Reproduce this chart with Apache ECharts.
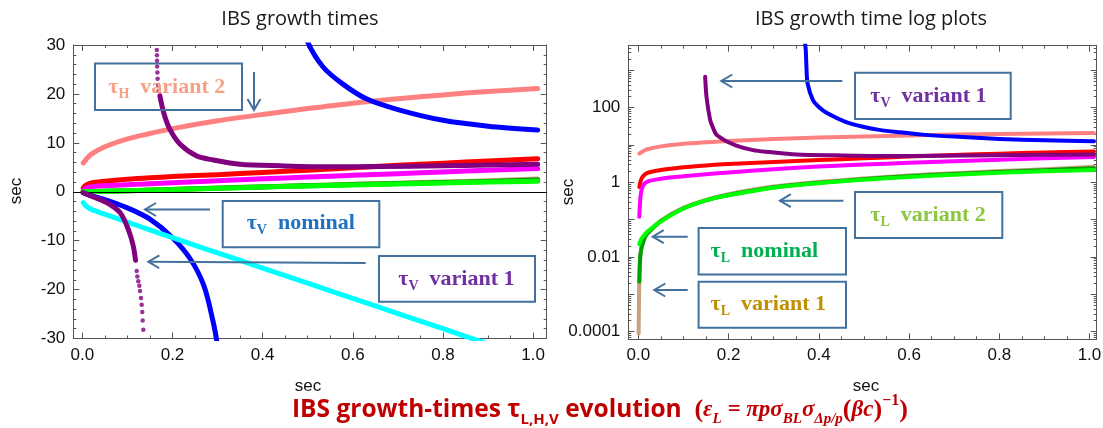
<!DOCTYPE html>
<html><head><meta charset="utf-8">
<script src="https://cdn.jsdelivr.net/npm/echarts@6.0.0/dist/echarts.min.js"></script>
<style>html,body{margin:0;padding:0;background:#fff;}#chart{width:1103px;height:428px;}</style>
</head><body><div id="chart"></div>
<script>
// ---------------- data ----------------
const X_MAIN = [0.002, 0.005, 0.01, 0.02, 0.05, 0.1, 0.15, 0.2, 0.3, 0.4, 0.5, 0.6, 0.7, 0.8, 0.9, 1.01];
const TAU_H_VAR2 = [5.9, 6.2, 6.8, 7.7, 9.2, 10.8, 11.9, 12.9, 14.5, 15.8, 17.0, 18.1, 19.0, 19.8, 20.5, 21.1];   // salmon
const TAU_RED    = [0.75, 1.1, 1.45, 1.8, 2.15, 2.55, 2.85, 3.1, 3.5, 3.95, 4.4, 4.9, 5.4, 5.85, 6.3, 6.75];
const TAU_MAG    = [0.12, 0.45, 0.8, 1.05, 1.25, 1.45, 1.65, 1.85, 2.25, 2.65, 3.0, 3.35, 3.7, 4.05, 4.4, 4.75];
const TAU_L_VAR2 = [0.022, 0.028, 0.035, 0.048, 0.09, 0.2, 0.33, 0.45, 0.72, 0.95, 1.17, 1.4, 1.6, 1.8, 1.98, 2.15]; // bright green
const TAU_CYAN   = [-2.2, -2.6, -3.0, -3.6, -4.6, -6.2, -7.8, -9.4, -12.5, -15.6, -18.7, -21.8, -24.9, -28.0, -31.1, -34.5];

const X_L_NOM    = [0.002, 0.004, 0.007, 0.01, 0.015, 0.02, 0.05, 0.1, 0.15, 0.2, 0.3, 0.4, 0.5, 0.6, 0.7, 0.8, 0.9, 1.01];
const TAU_L_NOM  = [0.0022, 0.01, 0.018, 0.024, 0.035, 0.043, 0.092, 0.2, 0.33, 0.46, 0.74, 0.98, 1.22, 1.46, 1.68, 1.9, 2.12, 2.4];

const X_L_VAR1   = [0.0005, 0.001, 0.0015, 0.002, 0.004, 0.007, 0.01, 0.015, 0.02, 0.05, 0.1, 0.15, 0.2, 0.3, 0.4, 0.5, 0.6, 0.7, 0.8, 0.9, 1.01];
const TAU_L_VAR1 = [0.00009, 0.0003, 0.001, 0.0022, 0.01, 0.018, 0.024, 0.035, 0.043, 0.094, 0.21, 0.34, 0.48, 0.77, 1.02, 1.27, 1.52, 1.76, 2.0, 2.25, 2.6];

const X_V_NOM_NEG   = [0.002, 0.01, 0.02, 0.05, 0.1, 0.15, 0.2, 0.24, 0.27, 0.29, 0.3, 0.31];
const TAU_V_NOM_NEG = [-0.2, -0.5, -0.8, -1.6, -3.3, -5.6, -9.4, -13.8, -19.3, -26.5, -31.5, -38];
const X_V_NOM_POS   = [0.369, 0.371, 0.3725, 0.375, 0.387, 0.4, 0.418, 0.459, 0.498, 0.534, 0.578, 0.63, 0.7, 0.8, 0.9, 1.01];
const TAU_V_NOM_POS = [6000, 3500, 1260, 450, 160, 105, 72, 42, 31, 25.5, 22, 19, 16.8, 14.6, 13.4, 12.6];

const X_V_VAR1_NEG   = [0.002, 0.01, 0.02, 0.054, 0.084, 0.102, 0.113, 0.118];
const TAU_V_VAR1_NEG = [-0.2, -0.5, -0.9, -2.2, -4.3, -7.7, -11.1, -14.0];
const X_V_VAR1_POS   = [0.148, 0.151, 0.159, 0.165, 0.172, 0.181, 0.194, 0.217, 0.254, 0.29, 0.35, 0.44, 0.55, 0.66, 0.8, 0.9, 1.01];
const TAU_V_VAR1_POS = [670, 195, 47, 30, 19.6, 16, 12.8, 9.7, 7.3, 6.5, 5.6, 5.3, 5.1, 5.15, 5.3, 5.45, 5.6];
// sparse dots of the steep parts (left plot)
const X_V_VAR1_DOTS_NEG   = [0.1206, 0.122, 0.1242, 0.1264, 0.128, 0.1302, 0.1317, 0.133, 0.1339, 0.1353];
const TAU_V_VAR1_DOTS_NEG = [-16.2, -17.3, -18.3, -19.2, -20.3, -21.7, -23.1, -24.6, -26.3, -28.2];
const X_V_VAR1_DOTS_TOP   = [0.165, 0.1652, 0.1655, 0.1658, 0.166, 0.1665, 0.167, 0.168, 0.169];
const TAU_V_VAR1_DOTS_TOP = [30.2, 29.0, 27.9, 26.8, 25.6, 24.4, 23.1, 21.8, 20.6];

// ticks
const X_MAJOR = [0, 0.2, 0.4, 0.6, 0.8, 1.0];
const X_MINOR = [0.05, 0.1, 0.15, 0.25, 0.3, 0.35, 0.45, 0.5, 0.55, 0.65, 0.7, 0.75, 0.85, 0.9, 0.95];
const Y_LIN_MAJOR = [-30, -20, -10, 0, 10, 20, 30];
const Y_LIN_MINOR = [-28, -26, -24, -22, -18, -16, -14, -12, -8, -6, -4, -2, 2, 4, 6, 8, 12, 14, 16, 18, 22, 24, 26, 28];
const Y_LOG_LABELS = [0.0001, 0.01, 1, 100];
const Y_LOG_MAJOR = [0.0001, 0.001, 0.01, 0.1, 1, 10, 100, 1000];
const Y_LOG_MINOR = [];
for (let e = -5; e <= 3; e++) for (let m = 2; m <= 9; m++) Y_LOG_MINOR.push(+(m * Math.pow(10, e)).toPrecision(3));

// ---------------- styling ----------------
const FRAME = '#555';
const BOX = '#41719C';
const SERIF = '"Liberation Serif", "Times New Roman", serif';
const SANS = '"Liberation Sans", Arial, sans-serif';
const C = {salmon:'#FF8080', red:'#FF0000', mag:'#FF00FF', tan:'#C8A07E', dk:'#00A000', green:'#00FF00',
           blue:'#0000FF', cyan:'#00FFFF', purple:'#800080'};

const pair = (xs, ys) => xs.map((x, i) => [x, ys[i]]);

function axisSet(dim, g, type, min, max, majors, minors, labels, fmt) {
  const sides = dim === 'x' ? ['bottom', 'top'] : ['left', 'right'];
  const list = [];
  sides.forEach((pos, si) => {
    [true, false].forEach(isMajor => {
      const a = {
        type, gridIndex: g, position: pos, offset: 0, min, max,
        axisLine: {show: isMajor, onZero: false, lineStyle: {color: FRAME, width: 1}},
        axisTick: {show: true, inside: true, length: isMajor ? 6 : 3, customValues: isMajor ? majors : minors,
                   lineStyle: {color: FRAME, width: 1}},
        axisLabel: (si === 0 && isMajor)
          ? {show: true, customValues: labels, formatter: fmt, fontSize: 17, fontFamily: SANS, color: '#111', margin: 8}
          : {show: false},
        splitLine: {show: false}, minorTick: {show: false}, minorSplitLine: {show: false},
        silent: true
      };
      if (type === 'log') a.logBase = 10;
      list.push(a);
    });
  });
  return list;
}

const fmtX = v => (+v).toFixed(1);
const fmtYLin = v => String(Math.round(v));
const fmtYLog = v => { const e = Math.round(Math.log10(v)); return e >= 0 ? String(Math.pow(10, e)) : Math.pow(10, e).toFixed(-e); };

const xAxis = [
  ...axisSet('x', 0, 'value', -0.02, 1.03, X_MAJOR, X_MINOR, X_MAJOR, fmtX),
  ...axisSet('x', 1, 'value', -0.0224, 1.016, X_MAJOR, X_MINOR, X_MAJOR, fmtX)
];
const yAxis = [
  ...axisSet('y', 0, 'value', -30, 30, Y_LIN_MAJOR, Y_LIN_MINOR, Y_LIN_MAJOR, fmtYLin),
  ...axisSet('y', 1, 'log', 6.25e-5, 4580, Y_LOG_MAJOR, Y_LOG_MINOR, Y_LOG_LABELS, fmtYLog)
];

function lineS(g, data, color, width, z, extra) {
  return Object.assign({
    type: 'line', xAxisIndex: g * 4, yAxisIndex: g * 4, data, showSymbol: false, smooth: 0.3,
    lineStyle: {width, color, cap: 'round', join: 'round'}, itemStyle: {color}, clip: true, silent: true, z
  }, extra || {});
}
function dotS(g, data, color, size, z) {
  return {type: 'scatter', xAxisIndex: g * 4, yAxisIndex: g * 4, data, symbolSize: size,
          itemStyle: {color}, clip: true, silent: true, z};
}

const W1 = 5, W2 = 4;
const series = [
  // left plot
  lineS(0, pair(X_MAIN, TAU_H_VAR2), C.salmon, W1, 2, {
    markLine: {silent: true, symbol: 'none', label: {show: false}, animation: false,
               lineStyle: {color: '#000', width: 1, type: 'solid'}, data: [{yAxis: 0}]}
  }),
  lineS(0, pair(X_MAIN, TAU_RED), C.red, W1, 3),
  lineS(0, pair(X_MAIN, TAU_MAG), C.mag, W1, 3),
  lineS(0, pair(X_L_VAR1, TAU_L_VAR1), C.tan, W1, 3),
  lineS(0, pair(X_L_NOM, TAU_L_NOM), C.dk, W1, 3),
  lineS(0, pair(X_MAIN, TAU_L_VAR2), C.green, W1, 3),
  lineS(0, pair(X_V_NOM_NEG, TAU_V_NOM_NEG), C.blue, W1, 4),
  lineS(0, pair(X_V_NOM_POS, TAU_V_NOM_POS), C.blue, W1, 4),
  lineS(0, pair(X_MAIN, TAU_CYAN), C.cyan, W1, 5),
  lineS(0, pair(X_V_VAR1_NEG, TAU_V_VAR1_NEG), C.purple, W1, 6),
  lineS(0, pair(X_V_VAR1_POS, TAU_V_VAR1_POS).filter(p => p[1] <= 20), C.purple, W1, 6),
  dotS(0, pair(X_V_VAR1_DOTS_NEG, TAU_V_VAR1_DOTS_NEG), C.purple, 4.5, 6),
  dotS(0, pair(X_V_VAR1_DOTS_TOP, TAU_V_VAR1_DOTS_TOP), C.purple, 4.5, 6),
  // right (log) plot
  lineS(1, pair(X_MAIN, TAU_H_VAR2), C.salmon, W2, 2),
  lineS(1, pair(X_MAIN, TAU_RED), C.red, W2, 3),
  lineS(1, pair(X_MAIN, TAU_MAG), C.mag, W2, 3),
  lineS(1, pair(X_L_VAR1, TAU_L_VAR1), C.tan, W2, 3),
  lineS(1, pair(X_L_NOM, TAU_L_NOM), C.dk, W2, 3),
  lineS(1, pair(X_MAIN, TAU_L_VAR2), C.green, W2, 3),
  lineS(1, pair(X_V_NOM_POS, TAU_V_NOM_POS), C.blue, W2, 4),
  lineS(1, pair(X_V_VAR1_POS, TAU_V_VAR1_POS), C.purple, W2, 6)
];

// ---------------- annotations ----------------
function rect(x, y, w, h) {
  return {type: 'rect', shape: {x, y, width: w, height: h}, style: {stroke: BOX, lineWidth: 2, fill: null}, z: 100, silent: true};
}
function arrow(x1, y1, x2, y2) {
  const ang = Math.atan2(y2 - y1, x2 - x1), L = 11, W = 6.5;
  const bx = x2 - L * Math.cos(ang), by = y2 - L * Math.sin(ang);
  const px = -Math.sin(ang) * W, py = Math.cos(ang) * W;
  return [
    {type: 'line', shape: {x1, y1, x2, y2}, style: {stroke: BOX, lineWidth: 2}, z: 100, silent: true},
    {type: 'polyline', shape: {points: [[bx + px, by + py], [x2, y2], [bx - px, by - py]]},
     style: {stroke: BOX, lineWidth: 2, fill: null}, z: 100, silent: true}
  ];
}
function tau(x, y, sub, word, color) {
  const base = {fontFamily: SERIF, fontWeight: 'bold', fill: color};
  return {type: 'text', x, y, z: 101, silent: true, style: {
    text: '{t|τ}{s|' + sub + '}{w|  ' + word + '}',
    align: 'left', verticalAlign: 'middle', textAlign: 'left', textVerticalAlign: 'middle',
    rich: {
      t: Object.assign({fontSize: 22, lineHeight: 28}, base),
      s: Object.assign({fontSize: 14, lineHeight: 14, verticalAlign: 'bottom'}, base),
      w: Object.assign({fontSize: 22, lineHeight: 28}, base)
    }
  }};
}
function plain(x, y, text, size, color, font, rot) {
  return {type: 'text', x, y, rotation: rot || 0, z: 101, silent: true, style: {
    text, fontSize: size, fontFamily: font, fill: color,
    align: 'center', verticalAlign: 'middle', textAlign: 'center', textVerticalAlign: 'middle'}};
}

const RED_CAP = '#C00000';
const capBase = {fill: RED_CAP, fontWeight: 'bold'};
const caption = {type: 'text', x: 292, y: 410, z: 101, silent: true, style: {
  text: '{a|IBS growth-times τ}{as|L,H,V}{a| evolution  }{p|(}{m|ε}{ms|L}{m| = πpσ}{ms|BL}{m|σ}{ms|Δp/p}{p|(}{m|βc}{p|)}{sup|−1}{p|)}',
  align: 'left', verticalAlign: 'middle', textAlign: 'left', textVerticalAlign: 'middle',
  rich: {
    a:  Object.assign({fontFamily: '"Open Sans", sans-serif', fontSize: 24.5, lineHeight: 34}, capBase),
    as: Object.assign({fontFamily: '"Open Sans", sans-serif', fontSize: 15, lineHeight: 15, verticalAlign: 'bottom'}, capBase),
    m:  Object.assign({fontFamily: SERIF, fontStyle: 'italic', fontSize: 23, lineHeight: 34}, capBase),
    ms: Object.assign({fontFamily: SERIF, fontStyle: 'italic', fontSize: 15, lineHeight: 15, verticalAlign: 'bottom'}, capBase),
    p:  Object.assign({fontFamily: SERIF, fontSize: 26, lineHeight: 34}, capBase),
    sup: Object.assign({fontFamily: SERIF, fontSize: 16, lineHeight: 16, verticalAlign: 'top'}, capBase)
  }
}};

const graphic = [
  plain(300, 19.5, 'IBS growth times', 20, '#1a1a1a', '"Open Sans", sans-serif'),
  plain(871, 19.5, 'IBS growth time log plots', 20, '#1a1a1a', '"Open Sans", sans-serif'),
  plain(16, 191, 'sec', 17, '#111', SANS, Math.PI / 2),
  plain(568.5, 192, 'sec', 17, '#111', SANS, Math.PI / 2),
  plain(308, 386, 'sec', 17, '#111', SANS),
  plain(866, 386, 'sec', 17, '#111', SANS),
  // left plot annotations
  rect(95, 63.5, 147, 46.5), tau(108.3, 87, 'H', 'variant 2', '#F5A185'),
  ...arrow(254, 72, 254, 110),
  rect(222.7, 201, 156.6, 46.3), tau(246.7, 223.5, 'V', 'nominal', '#1F72C0'),
  ...arrow(210, 209.5, 145, 209.5),
  rect(379, 256, 156, 45.7), tau(398.3, 279, 'V', 'variant 1', '#7030A0'),
  ...arrow(365.7, 263, 148.3, 261.7),
  // right plot annotations
  rect(855, 72.7, 155.7, 46.3), tau(870.3, 96.5, 'V', 'variant 1', '#7030A0'),
  ...arrow(842.3, 81, 721.3, 81),
  rect(855, 192, 147.3, 46), tau(870.3, 215, 'L', 'variant 2', '#8CC63F'),
  ...arrow(843.4, 200.7, 779.9, 200.7),
  rect(698.6, 228, 147.4, 46.5), tau(710.6, 251, 'L', 'nominal', '#00B050'),
  ...arrow(687.7, 236.7, 652.7, 236.7),
  rect(698.6, 281.7, 147.4, 46), tau(710.6, 304.7, 'L', 'variant 1', '#BF9000'),
  ...arrow(687.7, 290, 654.3, 290),
  caption
];

const chart = echarts.init(document.getElementById('chart'), null, {renderer: 'canvas'});
chart.setOption({
  animation: false,
  backgroundColor: '#fff',
  grid: [
    {left: 73.3, right: 556.3, top: 45, bottom: 89.5, containLabel: false, outerBoundsMode: 'none'},
    {left: 628.3, right: 6.3, top: 45.7, bottom: 88.7, containLabel: false, outerBoundsMode: 'none'}
  ],
  xAxis, yAxis, series, graphic
});
</script></body></html>
